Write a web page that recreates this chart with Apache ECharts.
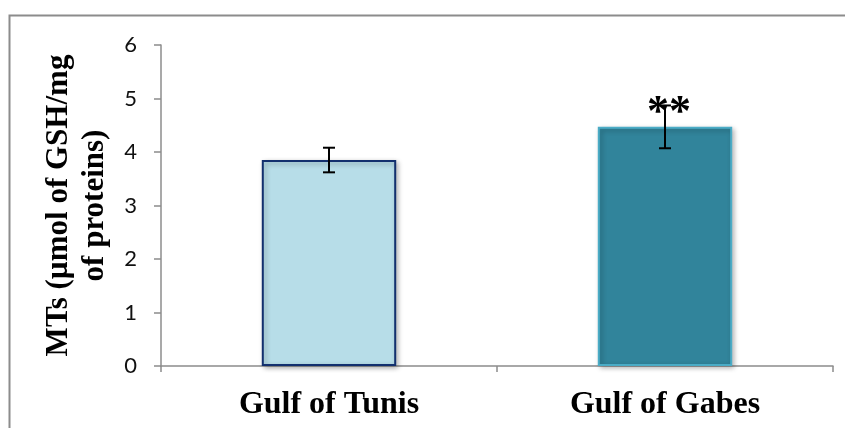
<!DOCTYPE html>
<html>
<head>
<meta charset="utf-8">
<script src="https://cdn.jsdelivr.net/npm/echarts@6/dist/echarts.min.js"></script>
<style>
    html, body { margin: 0; padding: 0; background: #fff; }
    #chart { width: 845px; height: 428px; }
</style>
</head>
<body>
<div id="chart"></div>
<script>
    // 数据
    var categories = ['Gulf of Tunis', 'Gulf of Gabes'];
    var means = [3.85, 4.47];
    var errors = [0.23, 0.40];
    var signif = ['', '**'];
    var barColors = ['#b7dde8', '#31849b'];
    var borderColors = ['#13306e', '#4bacc6'];

    var myChart = echarts.init(document.getElementById('chart'));

    myChart.setOption({
        animation: false,
        backgroundColor: '#fff',
        graphic: [{
            type: 'polyline',
            shape: { points: [[9.5, 428], [9.5, 15.5], [845, 15.5]] },
            style: { stroke: '#8c8c8c', lineWidth: 2, fill: null }
        }],
        grid: { left: 161, right: 12, top: 45, bottom: 62 },
        xAxis: {
            type: 'category',
            data: categories,
            axisLine: { lineStyle: { color: '#8c8c8c', width: 1.5 } },
            axisTick: { show: true, length: 6, lineStyle: { color: '#8c8c8c', width: 1.5 } },
            axisLabel: {
                margin: 23,
                color: '#000',
                fontFamily: 'Liberation Serif',
                fontWeight: 'bold',
                fontSize: 32
            }
        },
        yAxis: {
            type: 'value',
            min: 0,
            max: 6,
            interval: 1,
            name: 'MTs (µmol of GSH/mg\nof proteins)',
            nameLocation: 'middle',
            nameGap: 45,
            nameTextStyle: {
                color: '#000',
                fontFamily: 'Liberation Serif',
                fontWeight: 'bold',
                fontSize: 31,
                lineHeight: 36
            },
            axisLine: { show: true, lineStyle: { color: '#8c8c8c', width: 1.5 } },
            axisTick: { show: true, length: 7, lineStyle: { color: '#8c8c8c', width: 1.5 } },
            splitLine: { show: false },
            axisLabel: {
                margin: 24,
                color: '#111',
                fontFamily: 'Lato',
                fontSize: 22
            }
        },
        series: [{
            type: 'bar',
            barWidth: '40%',
            data: means.map(function (v, i) {
                return {
                    value: v,
                    itemStyle: {
                        color: barColors[i],
                        borderColor: borderColors[i],
                        borderWidth: 2,
                        shadowColor: 'rgba(0,0,0,0.3)',
                        shadowBlur: 5,
                        shadowOffsetX: 2,
                        shadowOffsetY: 2
                    }
                };
            })
        }, {
            // 误差线 + 显著性标记
            type: 'custom',
            z: 10,
            data: means.map(function (v, i) { return [i, v, errors[i]]; }),
            renderItem: function (params, api) {
                var i = api.value(0);
                var top = api.coord([i, api.value(1) + api.value(2)]);
                var bot = api.coord([i, api.value(1) - api.value(2)]);
                var cap = 6;
                var st = { stroke: '#000', lineWidth: 2 };
                var children = [
                    { type: 'line', shape: { x1: top[0], y1: top[1], x2: bot[0], y2: bot[1] }, style: st },
                    { type: 'line', shape: { x1: top[0] - cap, y1: top[1], x2: top[0] + cap, y2: top[1] }, style: st },
                    { type: 'line', shape: { x1: bot[0] - cap, y1: bot[1], x2: bot[0] + cap, y2: bot[1] }, style: st }
                ];
                if (signif[i]) {
                    children.push({
                        type: 'text',
                        z2: 20,
                        style: {
                            x: top[0] + 4,
                            y: top[1] + 8,
                            text: signif[i],
                            fill: '#000',
                            font: 'bold 44px "Liberation Serif"',
                            textAlign: 'center',
                            textVerticalAlign: 'middle'
                        }
                    });
                }
                return { type: 'group', children: children };
            }
        }]
    });
</script>
</body>
</html>
